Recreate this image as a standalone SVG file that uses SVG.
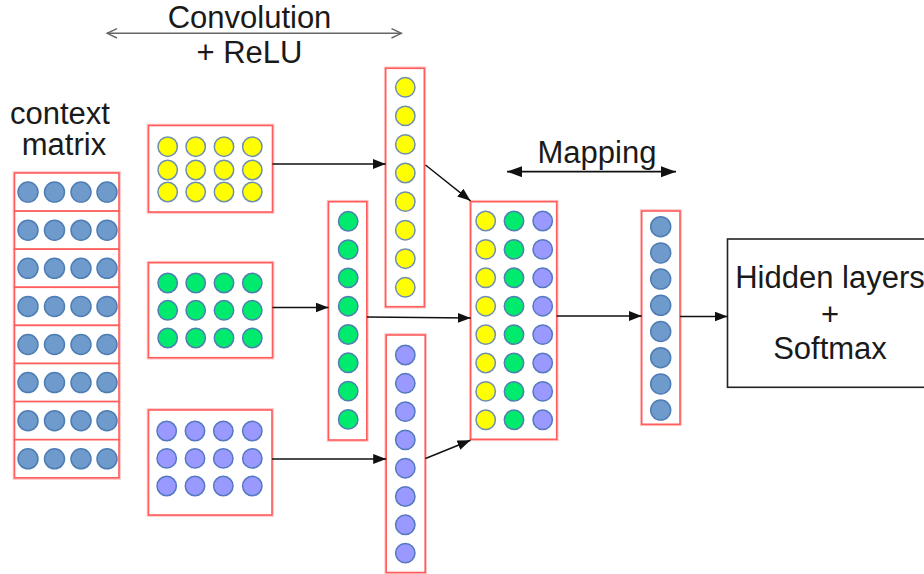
<svg xmlns="http://www.w3.org/2000/svg" width="924" height="574" viewBox="0 0 924 574">
  <style>
    .lbl { font-family: "Liberation Sans", Arial, sans-serif; font-size: 31px; fill: #1a1a1a; text-anchor: middle; }
    .box { fill: #ffffff; stroke: #ff5c5c; stroke-width: 1.6; }
    .halo { fill: none; stroke: #ffc4c4; stroke-width: 3.6; }
    .b { fill: #6f9bcc; stroke: #4e7db4; stroke-width: 1.5; }
    .y { fill: #ffff00; stroke: #6f8fae; stroke-width: 1.5; }
    .g { fill: #00ea6e; stroke: #4f7fb0; stroke-width: 1.5; }
    .p { fill: #9999ff; stroke: #5579c0; stroke-width: 1.5; }
    .arrow { fill: none; stroke: #111111; stroke-width: 1.5; marker-end: url(#head); }
    .span { fill: none; stroke: #111111; stroke-width: 1.8; marker-start: url(#head2); marker-end: url(#head2); }
    .span-open { fill: none; stroke: #666666; stroke-width: 1.5; marker-start: url(#chev); marker-end: url(#chev); }
  </style>
  <defs>
    <marker id="head" markerUnits="userSpaceOnUse" markerWidth="14" markerHeight="11" refX="13" refY="5" orient="auto">
      <path d="M0,0 L13,5 L0,10 z" fill="#111111"/>
    </marker>
    <marker id="head2" markerUnits="userSpaceOnUse" markerWidth="16" markerHeight="12" refX="15" refY="5.5" orient="auto-start-reverse">
      <path d="M0,0 L15,5.5 L0,11 z" fill="#111111"/>
    </marker>
    <marker id="chev" markerUnits="userSpaceOnUse" markerWidth="12" markerHeight="12" refX="10.5" refY="5.5" orient="auto-start-reverse">
      <path d="M0.5,0.8 L10.5,5.5 L0.5,10.2" fill="none" stroke="#666666" stroke-width="1.4"/>
    </marker>
  </defs>

  <rect width="924" height="574" fill="#ffffff"/>

  <!-- stage labels -->
  <g id="label-convolution">
    <path class="span-open" d="M107,33.3 H401.5"/>
    <text class="lbl" x="249.5" y="28.3">Convolution</text>
    <text class="lbl" x="249.5" y="63.3">+ ReLU</text>
  </g>
  <g id="label-mapping">
    <path class="span" d="M507,171.7 H676"/>
    <text class="lbl" x="597" y="163.3">Mapping</text>
  </g>

  <!-- input: context matrix, one box per row -->
  <g id="context-matrix">
    <text class="lbl" x="60" y="124.3">context</text>
    <text class="lbl" x="64" y="155">matrix</text>
    <g>
      <rect class="halo" x="14.5" y="173" width="104.5" height="305"/>
      <rect class="box" x="14.5" y="173" width="104.5" height="38.1"/>
      <rect class="box" x="14.5" y="211.1" width="104.5" height="38.1"/>
      <rect class="box" x="14.5" y="249.2" width="104.5" height="38.1"/>
      <rect class="box" x="14.5" y="287.3" width="104.5" height="38.1"/>
      <rect class="box" x="14.5" y="325.4" width="104.5" height="38.1"/>
      <rect class="box" x="14.5" y="363.5" width="104.5" height="38.1"/>
      <rect class="box" x="14.5" y="401.6" width="104.5" height="38.1"/>
      <rect class="box" x="14.5" y="439.7" width="104.5" height="38.1"/>
    </g>
    <g class="b">
      <circle cx="28" cy="192.1" r="10"/><circle cx="54.5" cy="192.1" r="10"/><circle cx="81" cy="192.1" r="10"/><circle cx="107" cy="192.1" r="10"/>
      <circle cx="28" cy="230.2" r="10"/><circle cx="54.5" cy="230.2" r="10"/><circle cx="81" cy="230.2" r="10"/><circle cx="107" cy="230.2" r="10"/>
      <circle cx="28" cy="268.3" r="10"/><circle cx="54.5" cy="268.3" r="10"/><circle cx="81" cy="268.3" r="10"/><circle cx="107" cy="268.3" r="10"/>
      <circle cx="28" cy="306.4" r="10"/><circle cx="54.5" cy="306.4" r="10"/><circle cx="81" cy="306.4" r="10"/><circle cx="107" cy="306.4" r="10"/>
      <circle cx="28" cy="344.5" r="10"/><circle cx="54.5" cy="344.5" r="10"/><circle cx="81" cy="344.5" r="10"/><circle cx="107" cy="344.5" r="10"/>
      <circle cx="28" cy="382.6" r="10"/><circle cx="54.5" cy="382.6" r="10"/><circle cx="81" cy="382.6" r="10"/><circle cx="107" cy="382.6" r="10"/>
      <circle cx="28" cy="420.7" r="10"/><circle cx="54.5" cy="420.7" r="10"/><circle cx="81" cy="420.7" r="10"/><circle cx="107" cy="420.7" r="10"/>
      <circle cx="28" cy="458.8" r="10"/><circle cx="54.5" cy="458.8" r="10"/><circle cx="81" cy="458.8" r="10"/><circle cx="107" cy="458.8" r="10"/>
    </g>
  </g>

  <!-- convolution feature maps -->
  <g id="fmap-yellow">
    <rect class="halo" x="148.5" y="125.5" width="124" height="86.5"/>
    <rect class="box" x="148.5" y="125.5" width="124" height="86.5"/>
    <g class="y">
      <circle cx="167.7" cy="146.7" r="9.7"/><circle cx="195.7" cy="146.7" r="9.7"/><circle cx="224" cy="146.7" r="9.7"/><circle cx="252.3" cy="146.7" r="9.7"/>
      <circle cx="167.7" cy="170" r="9.7"/><circle cx="195.7" cy="170" r="9.7"/><circle cx="224" cy="170" r="9.7"/><circle cx="252.3" cy="170" r="9.7"/>
      <circle cx="167.7" cy="192" r="9.7"/><circle cx="195.7" cy="192" r="9.7"/><circle cx="224" cy="192" r="9.7"/><circle cx="252.3" cy="192" r="9.7"/>
    </g>
  </g>
  <g id="fmap-green">
    <rect class="halo" x="148.5" y="262.7" width="124" height="95"/>
    <rect class="box" x="148.5" y="262.7" width="124" height="95"/>
    <g class="g">
      <circle cx="167.7" cy="283" r="9.7"/><circle cx="195.7" cy="283" r="9.7"/><circle cx="224" cy="283" r="9.7"/><circle cx="252.3" cy="283" r="9.7"/>
      <circle cx="167.7" cy="310.3" r="9.7"/><circle cx="195.7" cy="310.3" r="9.7"/><circle cx="224" cy="310.3" r="9.7"/><circle cx="252.3" cy="310.3" r="9.7"/>
      <circle cx="167.7" cy="338" r="9.7"/><circle cx="195.7" cy="338" r="9.7"/><circle cx="224" cy="338" r="9.7"/><circle cx="252.3" cy="338" r="9.7"/>
    </g>
  </g>
  <g id="fmap-purple">
    <rect class="halo" x="148.5" y="410" width="123.5" height="105"/>
    <rect class="box" x="148.5" y="410" width="123.5" height="105"/>
    <g class="p">
      <circle cx="166.7" cy="431" r="9.7"/><circle cx="195" cy="431" r="9.7"/><circle cx="223.3" cy="431" r="9.7"/><circle cx="252.3" cy="431" r="9.7"/>
      <circle cx="166.7" cy="458.4" r="9.7"/><circle cx="195" cy="458.4" r="9.7"/><circle cx="223.3" cy="458.4" r="9.7"/><circle cx="252.3" cy="458.4" r="9.7"/>
      <circle cx="166.7" cy="486" r="9.7"/><circle cx="195" cy="486" r="9.7"/><circle cx="223.3" cy="486" r="9.7"/><circle cx="252.3" cy="486" r="9.7"/>
    </g>
  </g>

  <!-- pooled vectors -->
  <g id="vec-yellow">
    <rect class="halo" x="385.7" y="68.3" width="38.6" height="238.4"/>
    <rect class="box" x="385.7" y="68.3" width="38.6" height="238.4"/>
    <g class="y">
      <circle cx="405.3" cy="87.3" r="9.7"/><circle cx="405.3" cy="115.9" r="9.7"/><circle cx="405.3" cy="144.4" r="9.7"/><circle cx="405.3" cy="173" r="9.7"/>
      <circle cx="405.3" cy="201.6" r="9.7"/><circle cx="405.3" cy="230.2" r="9.7"/><circle cx="405.3" cy="258.7" r="9.7"/><circle cx="405.3" cy="287.3" r="9.7"/>
    </g>
  </g>
  <g id="vec-green">
    <rect class="halo" x="328.5" y="201.7" width="38.3" height="238.3"/>
    <rect class="box" x="328.5" y="201.7" width="38.3" height="238.3"/>
    <g class="g">
      <circle cx="348.2" cy="221.3" r="9.7"/><circle cx="348.2" cy="249.6" r="9.7"/><circle cx="348.2" cy="277.9" r="9.7"/><circle cx="348.2" cy="306.2" r="9.7"/>
      <circle cx="348.2" cy="334.5" r="9.7"/><circle cx="348.2" cy="362.8" r="9.7"/><circle cx="348.2" cy="391.1" r="9.7"/><circle cx="348.2" cy="419.4" r="9.7"/>
    </g>
  </g>
  <g id="vec-purple">
    <rect class="halo" x="386.2" y="335" width="39" height="237.5"/>
    <rect class="box" x="386.2" y="335" width="39" height="237.5"/>
    <g class="p">
      <circle cx="405.3" cy="355" r="9.7"/><circle cx="405.3" cy="383.3" r="9.7"/><circle cx="405.3" cy="411.6" r="9.7"/><circle cx="405.3" cy="439.9" r="9.7"/>
      <circle cx="405.3" cy="468.2" r="9.7"/><circle cx="405.3" cy="496.5" r="9.7"/><circle cx="405.3" cy="524.8" r="9.7"/><circle cx="405.3" cy="553.1" r="9.7"/>
    </g>
  </g>

  <!-- concatenated vectors -->
  <g id="concat">
    <rect class="halo" x="470.7" y="201.7" width="86" height="237.6"/>
    <rect class="box" x="470.7" y="201.7" width="86" height="237.6"/>
    <g class="y">
      <circle cx="485.7" cy="221" r="9.7"/><circle cx="485.7" cy="249.4" r="9.7"/><circle cx="485.7" cy="277.8" r="9.7"/><circle cx="485.7" cy="306.2" r="9.7"/>
      <circle cx="485.7" cy="334.6" r="9.7"/><circle cx="485.7" cy="363" r="9.7"/><circle cx="485.7" cy="391.4" r="9.7"/><circle cx="485.7" cy="419.8" r="9.7"/>
    </g>
    <g class="g">
      <circle cx="514" cy="221" r="9.7"/><circle cx="514" cy="249.4" r="9.7"/><circle cx="514" cy="277.8" r="9.7"/><circle cx="514" cy="306.2" r="9.7"/>
      <circle cx="514" cy="334.6" r="9.7"/><circle cx="514" cy="363" r="9.7"/><circle cx="514" cy="391.4" r="9.7"/><circle cx="514" cy="419.8" r="9.7"/>
    </g>
    <g class="p">
      <circle cx="542.7" cy="221" r="9.7"/><circle cx="542.7" cy="249.4" r="9.7"/><circle cx="542.7" cy="277.8" r="9.7"/><circle cx="542.7" cy="306.2" r="9.7"/>
      <circle cx="542.7" cy="334.6" r="9.7"/><circle cx="542.7" cy="363" r="9.7"/><circle cx="542.7" cy="391.4" r="9.7"/><circle cx="542.7" cy="419.8" r="9.7"/>
    </g>
  </g>

  <!-- mapped vector -->
  <g id="mapped">
    <rect class="halo" x="641.7" y="211" width="38.3" height="213.3"/>
    <rect class="box" x="641.7" y="211" width="38.3" height="213.3"/>
    <g class="b">
      <circle cx="660.7" cy="226.7" r="10"/><circle cx="660.7" cy="252.9" r="10"/><circle cx="660.7" cy="279.1" r="10"/><circle cx="660.7" cy="305.3" r="10"/>
      <circle cx="660.7" cy="331.5" r="10"/><circle cx="660.7" cy="357.7" r="10"/><circle cx="660.7" cy="383.9" r="10"/><circle cx="660.7" cy="410.1" r="10"/>
    </g>
  </g>

  <!-- classifier -->
  <g id="classifier">
    <rect x="727.5" y="239" width="210" height="148.3" fill="#ffffff" stroke="#222222" stroke-width="1.6"/>
    <text class="lbl" x="830" y="288.3">Hidden layers</text>
    <text class="lbl" x="830" y="325">+</text>
    <text class="lbl" x="830" y="359.3">Softmax</text>
  </g>

  <!-- connectors -->
  <g id="connectors">
    <path class="arrow" d="M272.5,164 H385.7"/>
    <path class="arrow" d="M425.5,165 L470.5,200.8"/>
    <path class="arrow" d="M272.5,307.5 H328.5"/>
    <path class="arrow" d="M367,317 L470.7,318"/>
    <path class="arrow" d="M272,459 H386.2"/>
    <path class="arrow" d="M425.5,458.5 L470.5,440.3"/>
    <path class="arrow" d="M556.7,316 H641.7"/>
    <path class="arrow" d="M680,316.5 H727.5"/>
  </g>
</svg>
